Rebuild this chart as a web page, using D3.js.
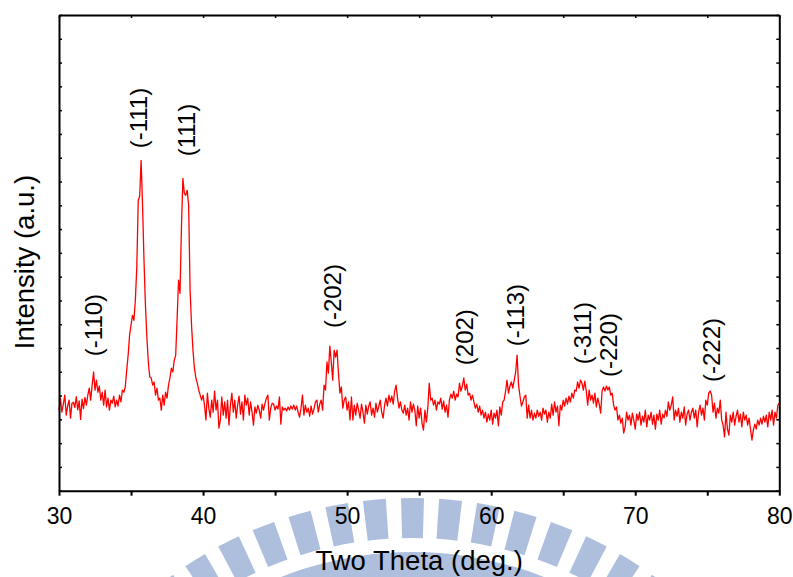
<!DOCTYPE html>
<html>
<head>
<meta charset="utf-8">
<script src="https://cdn.jsdelivr.net/npm/d3@7"></script>
<style>
  body { margin: 0; background: #fff; }
  svg { display: block; }
  text { font-family: "Liberation Sans", Arial, Helvetica, sans-serif; fill: #000; }
</style>
</head>
<body>
<svg id="chart" width="793" height="577"></svg>
<script>
// XRD scan: 2θ from 30° to 80° in 0.1° steps, intensity in counts
const scanStart = 30;
const scanStep = 0.1;
const intensity = [
  339, 389, 330, 364, 402, 318, 356, 381, 305, 368,   // 30
  372, 350, 395, 340, 378, 300, 385, 345, 392, 360,   // 31
  402, 431, 381, 444, 499, 423, 465, 414, 440, 381,   // 32
  414, 360, 423, 352, 389, 339, 381, 368, 398, 352,   // 33
  381, 356, 402, 373, 423, 414, 436, 507, 570, 654,   // 34
  696, 737, 716, 801, 940, 1220, 1238, 1389, 1199, 968, // 35
  780, 646, 541, 478, 474, 444, 457, 402, 431, 381,   // 36
  389, 339, 402, 360, 414, 389, 444, 474, 515, 499,   // 37
  548, 570, 725, 885, 830, 1108, 1313, 1250, 1242, 1263, // 38
  1199, 843, 696, 591, 515, 474, 452, 423, 402, 381,  // 39
  402, 360, 297, 410, 347, 309, 381, 330, 419, 339,   // 40
  381, 263, 297, 394, 318, 373, 305, 381, 276, 360,   // 41
  410, 330, 381, 305, 360, 398, 322, 373, 297, 402,   // 42
  360, 389, 318, 373, 330, 276, 352, 326, 360, 339,   // 43
  305, 364, 339, 368, 389, 402, 297, 347, 368, 364,   // 44
  339, 356, 343, 394, 280, 352, 339, 347, 335, 352,   // 45
  339, 356, 343, 360, 339, 356, 330, 309, 347, 402,   // 46
  318, 360, 330, 347, 313, 356, 322, 343, 373, 381,   // 47
  330, 364, 381, 339, 444, 423, 541, 494, 608, 541,   // 48
  465, 591, 562, 591, 494, 410, 436, 347, 381, 394,   // 49
  339, 373, 297, 394, 297, 360, 318, 368, 339, 305,   // 50
  364, 330, 284, 360, 322, 356, 373, 318, 347, 309,   // 51
  368, 330, 356, 381, 330, 305, 360, 389, 356, 402,   // 52
  373, 398, 364, 419, 444, 389, 347, 373, 339, 326,   // 53
  360, 318, 347, 297, 373, 330, 364, 339, 273, 356,   // 54
  305, 347, 284, 255, 339, 288, 347, 452, 381, 389,   // 55
  360, 381, 339, 373, 364, 389, 343, 377, 330, 360,   // 56
  309, 381, 406, 389, 419, 381, 406, 394, 452, 419,   // 57
  440, 474, 423, 448, 402, 410, 381, 402, 373, 347,   // 58
  364, 330, 356, 318, 339, 305, 330, 288, 322, 297,   // 59
  339, 280, 326, 305, 339, 273, 352, 318, 373, 381,   // 60
  419, 465, 410, 440, 457, 431, 465, 499, 570, 444,   // 61
  398, 356, 373, 394, 402, 305, 360, 305, 339, 297,   // 62
  326, 305, 339, 313, 330, 297, 347, 322, 339, 288,   // 63
  330, 305, 364, 318, 373, 330, 356, 273, 360, 339,   // 64
  381, 356, 389, 364, 398, 373, 410, 389, 423, 419,   // 65
  457, 431, 465, 452, 423, 461, 419, 360, 423, 381,   // 66
  402, 368, 410, 352, 389, 364, 326, 419, 436, 419,   // 67
  440, 423, 436, 402, 410, 360, 339, 352, 297, 318,   // 68
  284, 305, 242, 268, 330, 297, 318, 276, 326, 297,   // 69
  259, 322, 297, 330, 276, 313, 288, 339, 268, 318,   // 70
  297, 330, 280, 318, 259, 322, 297, 339, 280, 322,   // 71
  305, 339, 313, 373, 339, 360, 394, 297, 339, 313,   // 72
  347, 288, 330, 305, 352, 276, 322, 339, 297, 330,   // 73
  347, 305, 339, 268, 330, 360, 318, 347, 297, 381,   // 74
  360, 410, 419, 402, 330, 368, 305, 347, 326, 381,   // 75
  297, 276, 226, 330, 259, 234, 318, 288, 330, 276,   // 76
  313, 339, 288, 322, 268, 330, 297, 318, 276, 305,   // 77
  259, 213, 255, 280, 259, 297, 276, 305, 280, 313,   // 78
  288, 318, 268, 330, 297, 339, 276, 330, 305, 360,   // 79
  368                                                 // 80
];

// Reflection labels: Miller indices, 2θ position, intensity level of label foot
const peakLabels    = ["(-110)", "(-111)", "(111)", "(-202)", "(202)", "(-113)", "(-311)", "(-220)", "(-222)"];
const peakPositions = [32.57, 35.66, 38.99, 49.16, 58.29, 61.86, 66.51, 68.35, 75.47];
const labelHeights  = [570, 1444, 1410, 688, 532, 612, 536, 482, 461];

// Axis settings
const xDomain = [30, 80];
const xTickValues = [30, 35, 40, 45, 50, 55, 60, 65, 70, 75, 80];
const yDomain = [0, 2000];
const yTickValues = d3.range(0, 2001, 100);
const xTitle = "Two Theta (deg.)";
const yTitle = "Intensity (a.u.)";

const svg = d3.select("#chart");
const plot = { left: 59, right: 779.3, top: 15, bottom: 490.7 };

const x = d3.scaleLinear().domain(xDomain).range([plot.left, plot.right]);
const y = d3.scaleLinear().domain(yDomain).range([plot.bottom, plot.top]);

// Background watermark emblem (ring of radial bars over a broad arc band)
const wm = svg.append("g")
  .attr("transform", "translate(412.5,910.5)")
  .attr("fill", "#aebfde");
const deg = Math.PI / 180;
const barArc = d3.arc().innerRadius(372.5).outerRadius(412.5);
d3.range(-9, 10).forEach(k => {
  wm.append("path").attr("d", barArc({ startAngle: (k * 5.3 - 1.6) * deg, endAngle: (k * 5.3 + 1.6) * deg }));
});
wm.append("path").attr("d", d3.arc().innerRadius(300).outerRadius(358.5)({ startAngle: -70 * deg, endAngle: 70 * deg }));

// Diffraction trace
const line = d3.line()
  .x((d, i) => x(scanStart + i * scanStep))
  .y(d => y(d));

svg.append("path")
  .datum(intensity)
  .attr("d", line)
  .attr("fill", "none")
  .attr("stroke", "#ff0000")
  .attr("stroke-width", 1.3)
  .attr("stroke-linejoin", "round");

// Axes / frame
function styleAxis(g, width) {
  g.select(".domain").attr("stroke", "#000").attr("stroke-width", 2);
  g.selectAll(".tick line").attr("stroke", "#000").attr("stroke-width", width);
}

const axisB = svg.append("g")
  .attr("transform", `translate(0,${plot.bottom})`)
  .call(d3.axisBottom(x).tickValues(xTickValues).tickSize(5).tickSizeOuter(0).tickPadding(12)
    .tickFormat(d => d % 10 === 0 ? d : ""));
styleAxis(axisB, 2);
axisB.selectAll(".tick text").attr("font-size", 23).attr("font-family", "Liberation Sans, Arial, sans-serif");

const axisT = svg.append("g")
  .attr("transform", `translate(0,${plot.top})`)
  .call(d3.axisTop(x).tickValues(xTickValues).tickSize(-3).tickSizeOuter(0).tickFormat(""));
styleAxis(axisT, 1.5);

const axisL = svg.append("g")
  .attr("transform", `translate(${plot.left},0)`)
  .call(d3.axisLeft(y).tickValues(yTickValues).tickSize(-3).tickSizeOuter(0).tickFormat(""));
styleAxis(axisL, 1.5);

const axisR = svg.append("g")
  .attr("transform", `translate(${plot.right},0)`)
  .call(d3.axisRight(y).tickValues(yTickValues).tickSize(-3).tickSizeOuter(0).tickFormat(""));
styleAxis(axisR, 1.5);

// Reflection labels, rotated
svg.append("g").selectAll("text")
  .data(peakLabels)
  .join("text")
  .attr("transform", (d, i) => `translate(${x(peakPositions[i]) + 6},${y(labelHeights[i]) + 1}) rotate(-90)`)
  .attr("text-anchor", "start")
  .attr("font-size", 24)
  .text(d => d);

// Axis titles
svg.append("text")
  .attr("x", (plot.left + plot.right) / 2)
  .attr("y", 570)
  .attr("text-anchor", "middle")
  .attr("font-size", 27.5)
  .text(xTitle);

svg.append("text")
  .attr("transform", "translate(34,262) rotate(-90)")
  .attr("text-anchor", "middle")
  .attr("font-size", 27.5)
  .text(yTitle);
</script>
</body>
</html>
